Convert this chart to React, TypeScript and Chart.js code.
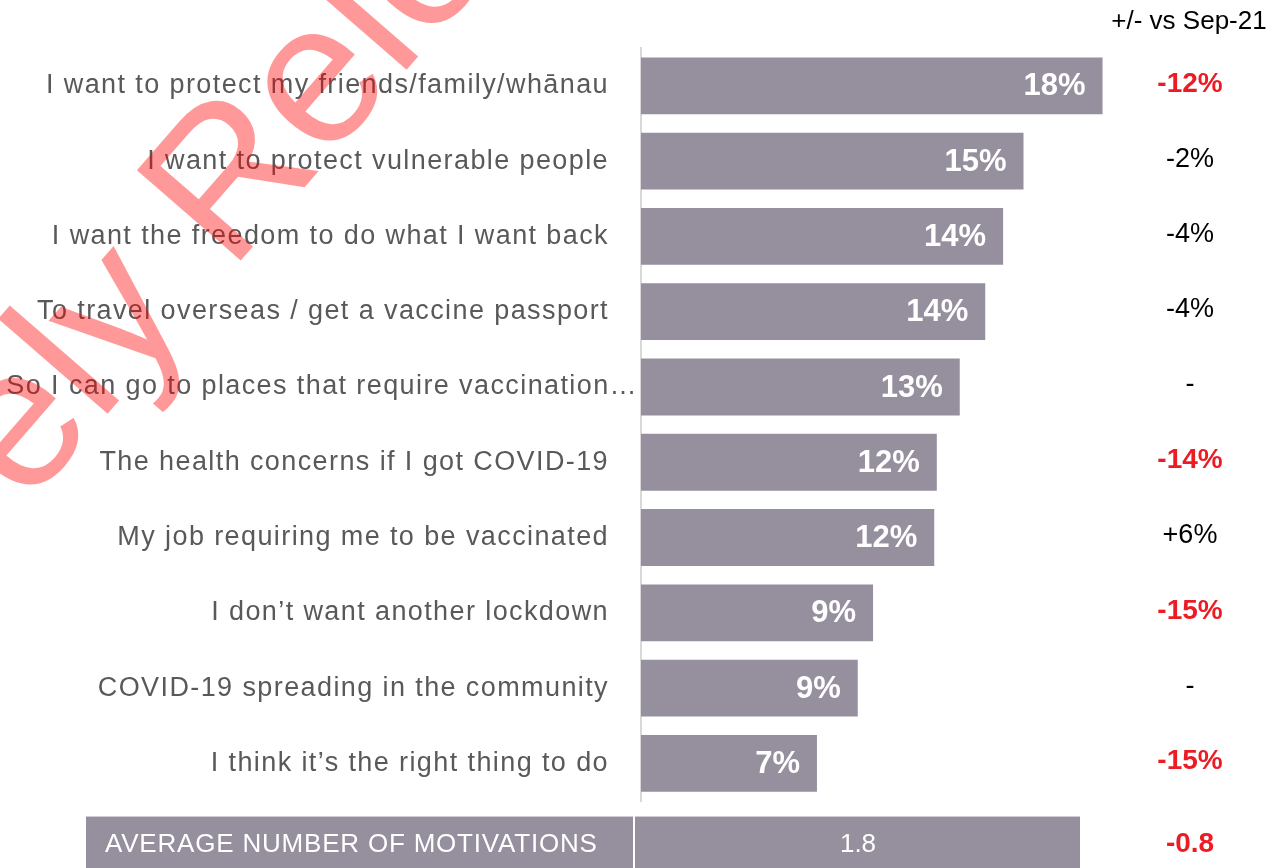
import React, { useEffect, useRef } from "react";
import { Chart, registerables } from "chart.js";

Chart.register(...registerables);

// ---------- data ----------
const categories = [
  "I want to protect my friends/family/whānau",
  "I want to protect vulnerable people",
  "I want the freedom to do what I want back",
  "To travel overseas / get a vaccine passport",
  "So I can go to places that require vaccination…",
  "The health concerns if I got COVID-19",
  "My job requiring me to be vaccinated",
  "I don’t want another lockdown",
  "COVID-19 spreading in the community",
  "I think it’s the right thing to do",
];
const values = [18.1, 15.0, 14.2, 13.5, 12.5, 11.6, 11.5, 9.1, 8.5, 6.9];
const valueLabels = ["18%", "15%", "14%", "14%", "13%", "12%", "12%", "9%", "9%", "7%"];
const changes = ["-12%", "-2%", "-4%", "-4%", "-", "-14%", "+6%", "-15%", "-", "-15%"];
const changeHighlighted = [true, false, false, false, false, true, false, true, false, true];
const changeHeader = "+/- vs Sep-21";
const averageLabel = "AVERAGE NUMBER OF MOTIVATIONS";
const averageValue = "1.8";
const averageChange = "-0.8";
const watermarkBefore = "Proactively ";
const watermarkAfter = "Released";
const overflowLabelIndex = 4;

// ---------- styles ----------
const FONT = "'Liberation Sans', Arial, sans-serif";
const BAR_COLOR = "#968f9e";
const LABEL_COLOR = "#595959";
const RED = "#ec1c24";
const LABEL_SPACING = "1.4px";

const decorPlugin = {
  id: "decor",
  beforeDraw(chart: any) {
    chart.ctx.letterSpacing = LABEL_SPACING;
  },
  beforeDatasetsDraw(chart: any) {
    chart.ctx.letterSpacing = "0px";
  },
  afterDatasetsDraw(chart: any) {
    const ctx = chart.ctx;
    const meta = chart.getDatasetMeta(0);
    ctx.save();
    ctx.letterSpacing = "0px";
    ctx.font = `bold 31px ${FONT}`;
    ctx.fillStyle = "#ffffff";
    ctx.textAlign = "right";
    ctx.textBaseline = "middle";
    meta.data.forEach((el: any, i: number) => {
      ctx.fillText(valueLabels[i], el.x - 17, el.y + 1);
    });
    ctx.restore();
  },
  afterDraw(chart: any) {
    const ctx = chart.ctx;
    const yScale = chart.scales.y;
    ctx.save();

    // overflowing (truncated) category label
    ctx.letterSpacing = LABEL_SPACING;
    ctx.font = `27px ${FONT}`;
    ctx.fillStyle = LABEL_COLOR;
    ctx.textAlign = "right";
    ctx.textBaseline = "middle";
    ctx.fillText(categories[overflowLabelIndex], 638, yScale.getPixelForValue(overflowLabelIndex));
    ctx.letterSpacing = "0px";

    // header of change column
    const colX = 1190;
    ctx.font = `26px ${FONT}`;
    ctx.fillStyle = "#000000";
    ctx.textAlign = "center";
    ctx.fillText(changeHeader, 1189, 22);

    // change values
    changes.forEach((c, i) => {
      const y = yScale.getPixelForValue(i);
      ctx.font = changeHighlighted[i] ? `bold 28px ${FONT}` : `27px ${FONT}`;
      ctx.fillStyle = changeHighlighted[i] ? RED : "#000000";
      ctx.fillText(c, colX, y - 2);
    });

    // bottom summary row
    const top = 816;
    const bottom = 868;
    ctx.fillStyle = BAR_COLOR;
    ctx.fillRect(86, top, 547, bottom - top);
    ctx.fillRect(635, top, 445, bottom - top);
    ctx.fillStyle = "#d0ced4";
    ctx.fillRect(86, top, 547, 1);
    ctx.fillRect(635, top, 445, 1);

    ctx.fillStyle = "#ffffff";
    ctx.font = `26px ${FONT}`;
    ctx.textAlign = "left";
    ctx.letterSpacing = "0.8px";
    ctx.fillText(averageLabel, 105, 845);
    ctx.letterSpacing = "0px";
    ctx.textAlign = "center";
    ctx.fillText(averageValue, 858, 845);
    ctx.font = `bold 28px ${FONT}`;
    ctx.fillStyle = RED;
    ctx.fillText(averageChange, colX, 844);

    // watermark
    ctx.translate(230, 273);
    ctx.rotate((-49 * Math.PI) / 180);
    ctx.font = `200px ${FONT}`;
    ctx.fillStyle = "rgba(255, 0, 0, 0.4)";
    ctx.textBaseline = "alphabetic";
    ctx.textAlign = "right";
    ctx.fillText(watermarkBefore, 0, 0);
    ctx.textAlign = "left";
    ctx.fillText(watermarkAfter, 0, 0);

    ctx.restore();
  },
};

export default function App() {
  const canvasRef = useRef<HTMLCanvasElement | null>(null);

  useEffect(() => {
    const canvas = canvasRef.current;
    if (!canvas) return;
    Chart.defaults.font.family = FONT;
    const chart = new Chart(canvas, {
      type: "bar",
      data: {
        labels: categories,
        datasets: [
          {
            data: values,
            backgroundColor: BAR_COLOR,
            borderWidth: 0,
            barPercentage: 0.755,
            categoryPercentage: 1,
          },
        ],
      },
      options: {
        indexAxis: "y",
        responsive: false,
        animation: false,
        devicePixelRatio: 1,
        layout: { padding: { left: 0, top: 46, right: 132, bottom: 67 } },
        plugins: {
          legend: { display: false },
          tooltip: { enabled: false },
        },
        scales: {
          x: {
            display: false,
            min: 0,
            max: 20,
          },
          y: {
            afterFit(scale: any) {
              scale.width = 641;
            },
            grid: { display: false, drawTicks: false },
            border: { display: true, color: "#d9d9d9", width: 2 },
            ticks: {
              autoSkip: false,
              padding: 32,
              font: { size: 27, family: FONT },
              color: (c: any) => (c.index === overflowLabelIndex ? "rgba(0,0,0,0)" : LABEL_COLOR),
            },
          },
        },
      },
      plugins: [decorPlugin],
    } as any);
    return () => chart.destroy();
  }, []);

  return (
    <div style={{ position: "fixed", left: 0, top: 0, width: 1283, height: 868, background: "#ffffff" }}>
      <canvas ref={canvasRef} width={1283} height={868} style={{ display: "block" }} />
    </div>
  );
}
